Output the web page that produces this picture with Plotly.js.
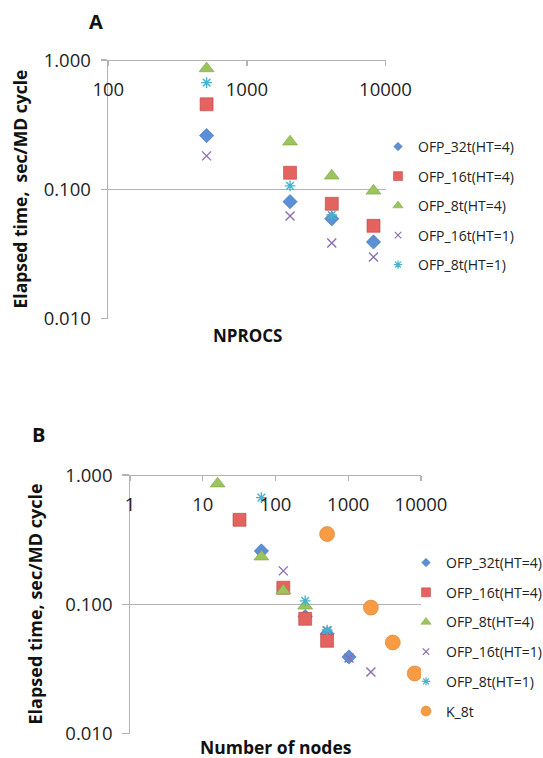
<!DOCTYPE html>
<html><head><meta charset="utf-8">
<script src="https://cdn.plot.ly/plotly-3.0.1.min.js"></script>
<style>html,body{margin:0;padding:0;background:#fff}#chart{width:543px;height:758px}</style>
</head><body><div id="chart"></div>
<script>
// ---- Panel A data (x = NPROCS) ----
const nprocs = [512, 2048, 4096, 8192];
const nprocs8tHT1 = [512, 2048, 4096];
const a32tHT4 = [0.260, 0.080, 0.059, 0.039];
const a16tHT4 = [0.454, 0.134, 0.077, 0.052];
const a8tHT4 = [0.860, 0.233, 0.127, 0.097];
const a16tHT1 = [0.181, 0.062, 0.0383, 0.0298];
const a8tHT1 = [0.668, 0.106, 0.063];

// ---- Panel B data (x = Number of nodes) ----
const nodes32tHT4 = [64, 256, 512, 1024];
const nodes16tHT4 = [32, 128, 256, 512];
const nodes8tHT4 = [16, 64, 128, 256];
const nodes16tHT1 = [128, 512, 1024, 2048];
const nodes8tHT1 = [64, 256, 512];
const b32tHT4 = [0.258, 0.080, 0.059, 0.039];
const b16tHT4 = [0.450, 0.134, 0.077, 0.052];
const b8tHT4 = [0.857, 0.233, 0.127, 0.097];
const b16tHT1 = [0.181, 0.062, 0.0383, 0.0298];
const b8tHT1 = [0.668, 0.106, 0.063];
const nodesK8t = [512, 2048, 4096, 8192];
const bK8t = [0.349, 0.094, 0.0505, 0.0291];

const seriesNames = ['OFP_32t(HT=4)', 'OFP_16t(HT=4)', 'OFP_8t(HT=4)', 'OFP_16t(HT=1)', 'OFP_8t(HT=1)', 'K_8t'];
const xTicksA = [100, 1000, 10000];
const xTickTextA = ['100', '1000', '10000'];
const xTicksB = [1, 10, 100, 1000, 10000];
const xTickTextB = ['1', '10', '100', '1000', '10000'];
const yTicks = [0.01, 0.1, 1];
const yTickText = ['0.010', '0.100', '1.000'];

// ---- styles ----
const W = 543, H = 758;
const px = v => v / W;
const py = v => 1 - v / H;
const styles = [
  {symbol: 'diamond', size: 11, lsize: 6.5, color: '#5b8fd6', line: '#3f6fb5', lw: 0.6},
  {symbol: 'square', size: 13, lsize: 9, color: '#e4625f', line: '#b94643', lw: 0.6},
  {symbol: 'triangle-up', size: 13, lsize: 9, color: '#9cc45c', line: '#7ea343', lw: 0.6},
  {symbol: 'x-thin-open', size: 9, lsize: 6.5, color: '#8c6fb0', line: '#8c6fb0', lw: 1.4},
  {symbol: 'asterisk-open', size: 9, lsize: 7, color: '#45b3cc', line: '#45b3cc', lw: 1.4},
  {symbol: 'circle', size: 15, lsize: 10, color: '#f89b45', line: '#d97e2b', lw: 0.6}
];
// data traces (no legend entry)
function mk(x, y, i, axes) {
  const s = styles[i];
  return {
    type: 'scatter', mode: 'markers', x: x, y: y, name: seriesNames[i],
    xaxis: axes[0], yaxis: axes[1], showlegend: false,
    marker: {symbol: s.symbol, size: s.size, color: s.color, line: {color: s.line, width: s.lw}},
    hoverinfo: 'x+y+name'
  };
}
// legend-only entries (no points) with the smaller legend symbols
function lg(i, axes, leg, grp) {
  const s = styles[i];
  return {
    type: 'scatter', mode: 'markers', x: [null], y: [null], name: seriesNames[i],
    xaxis: axes[0], yaxis: axes[1], legend: leg, legendgroup: grp, showlegend: true,
    marker: {symbol: s.symbol, size: s.lsize, color: s.color, line: {color: s.line, width: s.lw > 1 ? 1.2 : 0.5}},
    hoverinfo: 'skip'
  };
}
const data = [
  mk(nprocs, a32tHT4, 0, ['x', 'y']),
  mk(nprocs, a16tHT4, 1, ['x', 'y']),
  mk(nprocs, a8tHT4, 2, ['x', 'y']),
  mk(nprocs, a16tHT1, 3, ['x', 'y']),
  mk(nprocs8tHT1, a8tHT1, 4, ['x', 'y']),
  mk(nodes32tHT4, b32tHT4, 0, ['x2', 'y2']),
  mk(nodes16tHT4, b16tHT4, 1, ['x2', 'y2']),
  mk(nodes8tHT4, b8tHT4, 2, ['x2', 'y2']),
  mk(nodes16tHT1, b16tHT1, 3, ['x2', 'y2']),
  mk(nodes8tHT1, b8tHT1, 4, ['x2', 'y2']),
  mk(nodesK8t, bK8t, 5, ['x2', 'y2'])
];
for (let i = 0; i < 5; i++) data.push(lg(i, ['x', 'y'], 'legend', 'a' + i));
for (let i = 0; i < 6; i++) data.push(lg(i, ['x2', 'y2'], 'legend2', 'b' + i));

const grid = '#b3b3b3';
const tickFont = {family: 'Open Sans', size: 18.5, color: '#1e1e1e'};
function xAxis(range, dom, top, vals, txt) {
  return {
    type: 'log', range: range, domain: dom, anchor: 'free', position: top, side: 'bottom',
    tickvals: vals, ticktext: txt, ticks: 'outside', ticklen: 5, tickwidth: 1.3, tickcolor: grid,
    showline: true, linecolor: grid, linewidth: 1.3, showgrid: false, zeroline: false,
    tickfont: tickFont, ticklabelstandoff: 7, fixedrange: true
  };
}
function yAxis(dom, anchor) {
  return {
    type: 'log', range: [-2.004, 0.004], domain: dom, anchor: anchor,
    tickvals: yTicks, ticktext: yTickText, ticks: 'outside', ticklen: 6.5, tickwidth: 1.3, tickcolor: grid,
    showline: true, linecolor: grid, linewidth: 1.3, showgrid: true, gridcolor: grid, gridwidth: 1.3,
    zeroline: false, tickfont: tickFont, ticklabelstandoff: 6, fixedrange: true
  };
}
const layout = {
  width: W, height: H, margin: {l: 0, r: 0, t: 0, b: 0, autoexpand: false},
  paper_bgcolor: '#fff', plot_bgcolor: 'rgba(0,0,0,0)',
  font: {family: 'Open Sans', color: '#1e1e1e'},
  xaxis: xAxis([2, 4], [px(108.3), px(385.5)], py(60), xTicksA, xTickTextA),
  yaxis: yAxis([py(318.8), py(59.5)], 'x'),
  xaxis2: xAxis([0, 4], [px(130), px(421)], py(475), xTicksB, xTickTextB),
  yaxis2: yAxis([py(733.8), py(474.5)], 'x2'),
  legend: {x: px(378), y: py(131), xanchor: 'left', yanchor: 'top',
    font: {family: 'Open Sans', size: 14, color: '#222'},
    traceorder: 'grouped', tracegroupgap: 8.3, bgcolor: 'rgba(0,0,0,0)', itemwidth: 30},
  legend2: {x: px(406), y: py(547), xanchor: 'left', yanchor: 'top',
    font: {family: 'Open Sans', size: 14, color: '#222'},
    traceorder: 'grouped', tracegroupgap: 8.5, bgcolor: 'rgba(0,0,0,0)', itemwidth: 30},
  annotations: [
    {text: '<b>A</b>', x: px(96), y: py(22), xref: 'paper', yref: 'paper', showarrow: false, xanchor: 'center', yanchor: 'middle', font: {size: 20, color: '#111'}},
    {text: '<b>B</b>', x: px(38), y: py(434.5), xref: 'paper', yref: 'paper', showarrow: false, xanchor: 'center', yanchor: 'middle', font: {size: 20, color: '#111'}},
    {text: '<b>Elapsed time,\u00a0 sec/MD cycle</b>', x: px(19.5), y: py(189), xref: 'paper', yref: 'paper', showarrow: false, textangle: -90, xanchor: 'center', yanchor: 'middle', font: {size: 17.5, color: '#111'}},
    {text: '<b>Elapsed time, sec/MD cycle</b>', x: px(34.5), y: py(604), xref: 'paper', yref: 'paper', showarrow: false, textangle: -90, xanchor: 'center', yanchor: 'middle', font: {size: 18, color: '#111'}},
    {text: '<b>NPROCS</b>', x: px(247), y: py(335), xref: 'paper', yref: 'paper', showarrow: false, xanchor: 'center', yanchor: 'middle', font: {size: 17, color: '#111'}},
    {text: '<b>Number of nodes</b>', x: px(276), y: py(746.5), xref: 'paper', yref: 'paper', showarrow: false, xanchor: 'center', yanchor: 'middle', font: {size: 17.5, color: '#111'}}
  ]
};
Plotly.newPlot('chart', data, layout, {displayModeBar: false, staticPlot: true});
</script>
</body></html>
